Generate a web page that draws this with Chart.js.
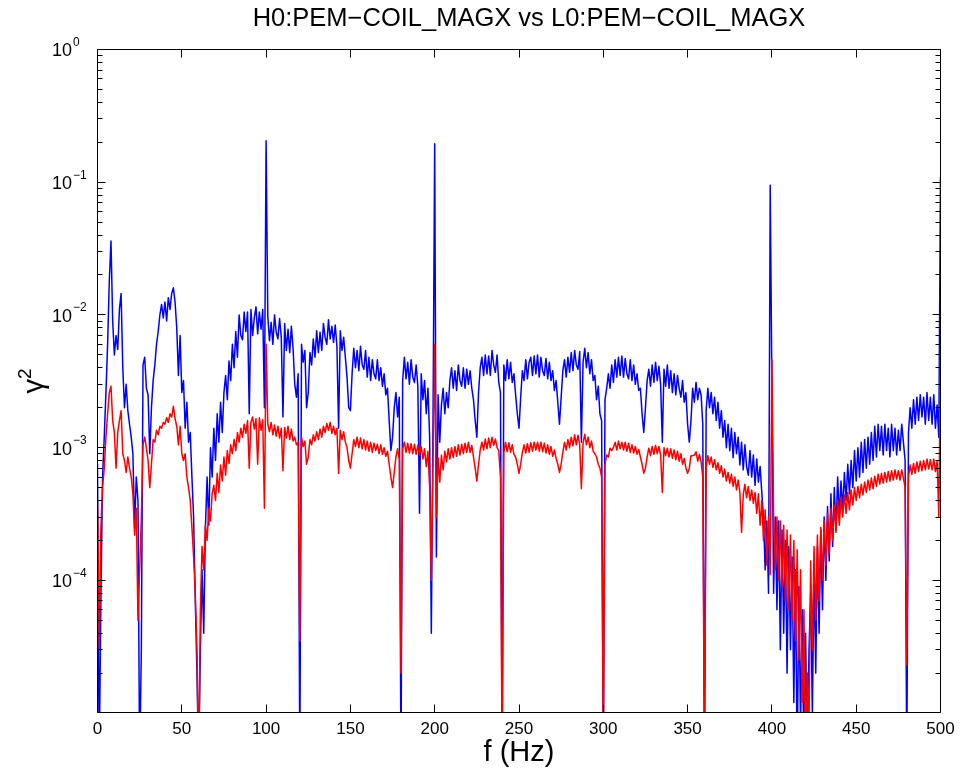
<!DOCTYPE html>
<html><head><meta charset="utf-8">
<script src="https://cdn.jsdelivr.net/npm/chart.js@4.4.1/dist/chart.umd.min.js"></script>
<style>html,body{margin:0;padding:0;background:#fff;}</style>
</head><body>
<canvas id="c" width="960" height="775"></canvas>
<script>
const chartTitle = 'H0:PEM\u2212COIL_MAGX vs L0:PEM\u2212COIL_MAGX';
const xAxisLabel = 'f (Hz)';
const yAxisBase = '\u03b3';
const yAxisSup = '2';
const xTickValues = [0, 50, 100, 150, 200, 250, 300, 350, 400, 450, 500];
const yTickExponents = [0, -1, -2, -3, -4];
const freqStartHz = 0;
const freqStepHz = 1;

// H0 coherence (blue), one value per Hz from 0 to 500 Hz
const blueH0 = [
7.5e-4,4e-6,7e-5,6e-4,1.2e-3,2.6e-3,6e-3,1.8e-2,3.6e-2,9e-3,
5e-3,7e-3,5.5e-3,1.1e-2,1.45e-2,4e-3,2e-3,3e-3,1.9e-3,1.5e-3,
1.2e-3,9e-4,2.5e-4,6e-4,4e-4,4e-6,3e-5,4.2e-3,4.8e-3,2.8e-3,
2.5e-3,9e-4,2e-3,3.2e-3,4.2e-3,6e-3,7.5e-3,1e-2,1.2e-2,9.5e-3,
1.25e-2,9e-3,1.35e-2,1.1e-2,1.45e-2,1.6e-2,1.25e-2,8e-3,3.5e-3,7e-3,
2.6e-3,3.2e-3,1.4e-3,2.2e-3,1.1e-3,1.3e-3,6e-4,3e-4,7e-5,2e-5,
4e-6,3e-5,1.2e-4,4e-5,2.5e-4,6e-4,2.6e-4,1e-3,6e-4,1.4e-3,
8e-4,1.8e-3,1.1e-3,2.2e-3,1.3e-3,2.6e-3,3.5e-3,2.3e-3,4.5e-3,3.2e-3,
6e-3,4e-3,7.5e-3,4.8e-3,1e-2,7e-3,6.5e-3,1.05e-2,7.5e-3,1.05e-2,
1.8e-3,1.1e-2,7e-3,9.5e-3,1.15e-2,7.2e-3,1.05e-2,7.8e-3,1.1e-2,2e-3,
0.205,9.8e-3,6.4e-3,8.8e-3,6e-3,1e-2,7.4e-3,6.6e-3,9.4e-3,6.8e-3,
1.7e-3,8.6e-3,5.4e-3,7.8e-3,5.2e-3,8.2e-3,5.6e-3,3e-3,2.4e-3,3.6e-3,
4e-6,6e-3,4.4e-3,5.4e-3,2e-3,2.6e-3,5.2e-3,4.2e-3,6.6e-3,4.8e-3,
7.6e-3,5.2e-3,7.4e-3,5.4e-3,8.6e-3,6.8e-3,6e-3,9.2e-3,6.6e-3,8.2e-3,
6.2e-3,8.4e-3,5.8e-3,1.4e-3,7.6e-3,5.4e-3,6.8e-3,4.8e-3,3.4e-3,2e-3,
1.9e-3,3.6e-3,5.6e-3,4e-3,5.4e-3,3.8e-3,5.8e-3,4.2e-3,3.9e-3,5.4e-3,
3.4e-3,4.8e-3,3.2e-3,4.6e-3,3.6e-3,3.3e-3,4.6e-3,3.2e-3,4e-3,2.9e-3,
3.6e-3,2.5e-3,2.8e-3,1.6e-3,9.5e-4,1.2e-3,2e-3,2.6e-3,1.7e-3,2.4e-3,
4e-6,3.2e-3,4.8e-3,3.3e-3,4.4e-3,3e-3,4.6e-3,3.4e-3,3.1e-3,4.2e-3,
2.9e-3,3.2e-4,3.6e-3,2.3e-3,3.2e-3,1.8e-3,2.8e-3,1.2e-3,4e-5,1.6e-3,
0.195,1.5e-4,2.5e-3,1.1e-3,2.1e-3,2.8e-3,1.8e-3,2.6e-3,2e-3,3.2e-3,
4e-3,2.8e-3,3.8e-3,2.7e-3,4.2e-3,3.2e-3,2.9e-3,4e-3,2.8e-3,3.9e-3,
3e-3,3.8e-3,2.8e-3,2.3e-3,1.6e-3,1.2e-3,2.6e-3,4e-3,4.8e-3,3.5e-3,
5e-3,3.6e-3,4.9e-3,3.5e-3,5.4e-3,4.2e-3,3.7e-3,5e-3,3.1e-3,2.6e-3,
4e-6,4.2e-3,3.2e-3,4.6e-3,3.3e-3,4.4e-3,3.1e-3,3.6e-3,2.5e-3,1.8e-3,
1.4e-3,2.4e-3,3.8e-3,3.2e-3,4.6e-3,3.3e-3,4.4e-3,4.8e-3,3.5e-3,4.9e-3,
3.6e-3,5e-3,3.4e-3,4.8e-3,3.8e-3,3.5e-3,4.7e-3,3.3e-3,4.4e-3,3.2e-3,
3.8e-3,2.7e-3,3.2e-3,2.2e-3,1.5e-3,2.4e-3,3.8e-3,4.6e-3,3.4e-3,4.8e-3,
3.7e-3,5.2e-3,3.8e-3,5.4e-3,4.2e-3,3.9e-3,5.3e-3,1.1e-3,4.4e-3,5.6e-3,
4e-3,5.2e-3,3.6e-3,4.6e-3,3.2e-3,3.5e-3,2.3e-3,2.9e-3,1.8e-3,1.6e-3,
4e-6,2.3e-3,2.8e-3,3.6e-3,2.8e-3,4.2e-3,3.1e-3,4.6e-3,3.4e-3,4.8e-3,
3.5e-3,4.9e-3,3.4e-3,4.7e-3,3.6e-3,3.3e-3,4.6e-3,3.2e-3,4.2e-3,3e-3,
3.6e-3,2.7e-3,2.8e-3,1.8e-3,1.3e-3,2e-3,3.2e-3,3.9e-3,2.9e-3,4.2e-3,
3.1e-3,4.4e-3,3.2e-3,4.1e-3,3e-3,1.1e-3,3.9e-3,2.9e-3,4.2e-3,2.8e-3,
3.8e-3,2.6e-3,3.6e-3,2.5e-3,3.5e-3,2.8e-3,2.4e-3,3.2e-3,2.2e-3,2.6e-3,
1.5e-3,1.1e-3,1.6e-3,2.8e-3,2.2e-3,3.1e-3,2.3e-3,2.8e-3,2.5e-3,1.5e-3,
4e-6,1.9e-3,2.8e-3,2e-3,2.6e-3,1.8e-3,2.4e-3,1.6e-3,2.2e-3,1.4e-3,
1.9e-3,1.2e-3,1.6e-3,1e-3,1.5e-3,9.5e-4,1.4e-3,8.4e-4,1.3e-3,9e-4,
1.2e-3,7.4e-4,1.1e-3,6.8e-4,1.05e-3,7.2e-4,6.2e-4,9.5e-4,6e-4,8.8e-4,
5.2e-4,8.2e-4,5.5e-4,7.2e-4,4.6e-4,3e-4,1.2e-4,2.8e-4,8e-5,9.5e-2,
2.9e-3,8e-5,3e-4,6e-5,2.8e-4,3e-5,2.4e-4,4e-5,2e-4,2e-5,
1.8e-4,3e-5,1.5e-4,1.2e-5,1.2e-4,4e-6,9e-5,8e-6,6e-5,4e-6,
4e-5,4e-6,3e-5,8e-5,1e-5,1.2e-4,2e-5,1.8e-4,4e-5,2.4e-4,
6e-5,3e-4,1e-4,3.6e-4,1.4e-4,4.5e-4,1.8e-4,5e-4,2.4e-4,6e-4,
3e-4,5.6e-4,3.4e-4,6.5e-4,4e-4,7.5e-4,4.5e-4,8e-4,5e-4,9.5e-4,
5.6e-4,1e-3,6e-4,1.1e-3,6.5e-4,1.15e-3,7e-4,1.2e-3,7.5e-4,1.3e-3,
8e-4,1.45e-3,8.5e-4,1.5e-3,9.5e-4,1.45e-3,8.8e-4,1.5e-3,9.5e-4,1.4e-3,
8.5e-4,1.5e-3,9.5e-4,1.4e-3,8.8e-4,1.35e-3,9.5e-4,1.5e-3,1.1e-3,8e-4,
4e-6,1.3e-3,2e-3,1.4e-3,2.3e-3,1.5e-3,2.4e-3,1.6e-3,2.5e-3,1.7e-3,
2.4e-3,1.5e-3,2.6e-3,1.6e-3,2.4e-3,1.5e-3,2.5e-3,1.4e-3,2.1e-3,1.2e-3,
0.11
];

// L0 coherence (red), one value per Hz from 0 to 500 Hz
const redL0 = [
4e-4,3e-5,2.5e-4,5e-4,7e-4,1.2e-3,1.8e-3,2.6e-3,2.9e-3,1.6e-3,
1.3e-3,7e-4,1.3e-3,1.6e-3,1.9e-3,9e-4,8e-4,6.5e-4,8.5e-4,7e-4,
6e-4,4.5e-4,2.2e-4,3.5e-4,5e-5,1.2e-4,3e-4,1.05e-3,1.2e-3,1e-3,
8e-4,5e-4,7.5e-4,1.15e-3,1.1e-3,1.35e-3,1.25e-3,1.45e-3,1.4e-3,1.55e-3,
1.5e-3,1.68e-3,1.55e-3,1.8e-3,1.7e-3,2.05e-3,1.65e-3,1.45e-3,1.05e-3,1.45e-3,
9e-4,8e-4,9e-4,6e-4,5e-4,4e-4,2.5e-4,1.5e-4,8e-5,3e-5,
4e-6,6e-5,1.8e-4,1.2e-4,2.6e-4,2e-4,3.5e-4,2.8e-4,4.5e-4,5.2e-4,
4e-4,6.4e-4,4.6e-4,7.4e-4,5.6e-4,8.5e-4,6.2e-4,9.5e-4,7.6e-4,1.05e-3,
9e-4,1.15e-3,9.5e-4,1.3e-3,1.1e-3,1.4e-3,1.2e-3,1.5e-3,1.28e-3,1.6e-3,
7e-4,1.55e-3,1.7e-3,1.38e-3,1.65e-3,7.5e-4,1.68e-3,1.35e-3,1.62e-3,3.5e-4,
6e-3,1.5e-3,1.32e-3,1.55e-3,1.25e-3,1.48e-3,1.22e-3,1.45e-3,1.18e-3,1.4e-3,
6.7e-4,1.42e-3,1.18e-3,1.45e-3,1.15e-3,1.38e-3,1.12e-3,1.2e-3,1.05e-3,1.1e-3,
3.5e-5,1.2e-3,1.02e-3,1.12e-3,7.5e-4,8.5e-4,1.15e-3,1.05e-3,1.25e-3,1.12e-3,
1.32e-3,1.15e-3,1.38e-3,1.2e-3,1.45e-3,1.3e-3,1.52e-3,1.35e-3,1.55e-3,1.28e-3,
1.45e-3,1.25e-3,1.4e-3,6.4e-4,1.35e-3,1.15e-3,1.32e-3,1.1e-3,1e-3,8e-4,
7e-4,9e-4,1.15e-3,1.02e-3,1.2e-3,1e-3,1.18e-3,9.8e-4,1.15e-3,9.6e-4,
1.12e-3,9.4e-4,1.1e-3,9.2e-4,1.08e-3,9.5e-4,1.06e-3,9e-4,1.05e-3,8.9e-4,
1e-3,8.6e-4,9.4e-4,7.5e-4,6e-4,5e-4,6.5e-4,8.5e-4,9.8e-4,8.2e-4,
2e-5,9.8e-4,1.1e-3,9.2e-4,1.08e-3,9.1e-4,1.07e-3,9e-4,1.06e-3,8.9e-4,
1.04e-3,8.8e-4,1.02e-3,8.2e-4,9.8e-4,7.2e-4,9.4e-4,5e-4,1e-4,8e-4,
6e-3,3e-4,8.4e-4,5.5e-4,8.8e-4,6.8e-4,9.4e-4,7.8e-4,9.8e-4,8.2e-4,
1e-3,8.4e-4,1.02e-3,8.6e-4,1.05e-3,8.8e-4,1.06e-3,9e-4,1.08e-3,9.2e-4,
1.1e-3,9.2e-4,1.04e-3,8.5e-4,7e-4,5.6e-4,7.5e-4,9.6e-4,1.1e-3,9.6e-4,
1.16e-3,9.8e-4,1.18e-3,1e-3,1.2e-3,1.04e-3,1.16e-3,1e-3,9.5e-4,6e-4,
4e-6,9.2e-4,1.1e-3,9.3e-4,1.09e-3,9.2e-4,1.05e-3,8.9e-4,8.5e-4,7.5e-4,
6.4e-4,7.5e-4,9.2e-4,1.05e-3,9.1e-4,1.07e-3,9.2e-4,1.09e-3,9.4e-4,1.1e-3,
9.6e-4,1.1e-3,9.4e-4,1.1e-3,9.3e-4,1.08e-3,9.1e-4,1.05e-3,8.9e-4,1.02e-3,
8.6e-4,9.6e-4,8.3e-4,7.5e-4,6.5e-4,7.5e-4,9.2e-4,1.1e-3,9.6e-4,1.15e-3,
1e-3,1.2e-3,1.03e-3,1.25e-3,1.05e-3,1.24e-3,1.05e-3,4.9e-4,1.08e-3,1.26e-3,
1.05e-3,1.2e-3,1e-3,1.12e-3,9.4e-4,9e-4,8.5e-4,7.5e-4,7e-4,6e-4,
4e-6,7.5e-4,8.8e-4,8.5e-4,9.9e-4,9.5e-4,1e-3,1.1e-3,9.6e-4,1.12e-3,
9.8e-4,1.1e-3,9.6e-4,1.1e-3,9.4e-4,1.08e-3,9.2e-4,1.05e-3,9.1e-4,1.02e-3,
8.9e-4,9.7e-4,8.5e-4,7.5e-4,6.4e-4,7e-4,8.5e-4,9.9e-4,8.7e-4,1.02e-3,
8.9e-4,1.04e-3,9e-4,1.02e-3,8.8e-4,4.6e-4,1e-3,8.7e-4,9.9e-4,8.5e-4,
9.8e-4,8.3e-4,9.6e-4,8.1e-4,9.4e-4,7.9e-4,9e-4,7.5e-4,8.3e-4,7e-4,
6.4e-4,7e-4,8.7e-4,8.7e-4,8.8e-4,9.3e-4,7.9e-4,8.9e-4,7.8e-4,6e-4,
4e-6,7e-4,8.7e-4,7.5e-4,8.5e-4,7.1e-4,8.1e-4,6.8e-4,7.7e-4,6.4e-4,
7.3e-4,6e-4,6.9e-4,5.6e-4,6.5e-4,5.4e-4,6.3e-4,5.1e-4,6e-4,4.8e-4,
5.7e-4,4.6e-4,2.3e-4,4.4e-4,5.3e-4,4.2e-4,5.1e-4,4e-4,4.8e-4,3.8e-4,
4.6e-4,3.2e-4,4.5e-4,2.6e-4,4e-4,2e-4,3.4e-4,1.3e-4,3e-4,1.1e-4,
4.6e-3,3.2e-4,1.2e-4,3e-4,1e-4,2.8e-4,9e-5,2.6e-4,7e-5,2.4e-4,
6e-5,2.2e-4,5e-5,2e-4,3.5e-5,1.7e-4,2.5e-5,1.2e-4,1.2e-5,6e-5,
4e-6,2e-5,8e-6,1.4e-4,3e-5,1.8e-4,5e-5,2.2e-4,7e-5,2.5e-4,
1e-4,2.8e-4,1.3e-4,3.2e-4,1.6e-4,3.5e-4,2e-4,3.7e-4,2.3e-4,4e-4,
2.6e-4,4.2e-4,3e-4,4.4e-4,3.2e-4,4.6e-4,3.4e-4,4.8e-4,3.7e-4,5e-4,
4e-4,5.1e-4,4.2e-4,5.3e-4,4.4e-4,5.5e-4,4.6e-4,5.7e-4,4.8e-4,5.9e-4,
4.9e-4,6.1e-4,5.1e-4,6.3e-4,5.3e-4,6.4e-4,5.4e-4,6.5e-4,5.5e-4,6.6e-4,
5.6e-4,6.7e-4,5.7e-4,6.8e-4,5.8e-4,6.7e-4,5.7e-4,6.8e-4,5.9e-4,5e-4,
2.3e-5,6e-4,7.4e-4,6.3e-4,7.6e-4,6.4e-4,7.8e-4,6.6e-4,7.9e-4,6.7e-4,
8e-4,6.8e-4,8.2e-4,6.9e-4,8.1e-4,6.8e-4,8.2e-4,6.6e-4,7.9e-4,3e-4,
5e-3
];

const FONT = '"Liberation Sans", Arial, Helvetica, sans-serif';

function toPoints(values) {
  return values.map((v, i) => ({ x: freqStartHz + i * freqStepHz, y: v }));
}

const matlabAxes = {
  id: 'matlabAxes',
  afterDatasetsDraw(chart) {
    const ctx = chart.ctx;
    const a = chart.chartArea;
    const xs = chart.scales.x, ys = chart.scales.y;
    ctx.save();
    ctx.strokeStyle = '#000';
    ctx.lineWidth = 1;
    ctx.beginPath();
    ctx.rect(a.left, a.top, a.right - a.left, a.bottom - a.top);
    ctx.stroke();

    const MAJ = 8, MIN = 5;
    ctx.beginPath();
    xTickValues.forEach(v => {
      const px = Math.floor(xs.getPixelForValue(v)) + 0.5;
      ctx.moveTo(px, a.bottom); ctx.lineTo(px, a.bottom - MAJ);
      ctx.moveTo(px, a.top); ctx.lineTo(px, a.top + MAJ);
    });
    for (let e = -5; e <= 0; e++) {
      for (let m = 1; m <= 9; m++) {
        const v = m * Math.pow(10, e);
        if (v < ys.min * 0.999 || v > ys.max * 1.001) continue;
        const py = Math.floor(ys.getPixelForValue(v)) + 0.5;
        const len = m === 1 ? MAJ : MIN;
        ctx.moveTo(a.left, py); ctx.lineTo(a.left + len, py);
        ctx.moveTo(a.right, py); ctx.lineTo(a.right - len, py);
      }
    }
    ctx.stroke();

    ctx.fillStyle = '#000';
    // x tick labels
    ctx.font = '17px ' + FONT;
    ctx.textAlign = 'center';
    ctx.textBaseline = 'top';
    xTickValues.forEach(v => {
      ctx.fillText(String(v), xs.getPixelForValue(v), a.bottom + 8);
    });
    // y tick labels 10^e
    yTickExponents.forEach(e => {
      const py = ys.getPixelForValue(Math.pow(10, e));
      ctx.font = '18px ' + FONT;
      ctx.textAlign = 'left';
      ctx.textBaseline = 'middle';
      ctx.fillText('10', 52, py + 2);
      const w = ctx.measureText('10').width;
      ctx.font = '12px ' + FONT;
      ctx.fillText(e === 0 ? '0' : '\u2212' + Math.abs(e), 52 + w + 1, py - 7);
    });
    // title
    ctx.font = '25.5px ' + FONT;
    ctx.textAlign = 'center';
    ctx.textBaseline = 'middle';
    ctx.fillText(chartTitle, 529, 19);
    // x label
    ctx.font = '29px ' + FONT;
    ctx.fillText(xAxisLabel, (a.left + a.right) / 2, 753);
    // y label
    ctx.save();
    ctx.translate(43, (a.top + a.bottom) / 2);
    ctx.rotate(-Math.PI / 2);
    ctx.textAlign = 'left';
    ctx.textBaseline = 'alphabetic';
    ctx.font = '29px ' + FONT;
    const wg = ctx.measureText(yAxisBase).width;
    ctx.font = '19px ' + FONT;
    const ws = ctx.measureText(yAxisSup).width;
    const x0 = -(wg + ws) / 2;
    ctx.font = '29px ' + FONT;
    ctx.fillText(yAxisBase, x0, 0);
    ctx.font = '19px ' + FONT;
    ctx.fillText(yAxisSup, x0 + wg, -12);
    ctx.restore();
    ctx.restore();
  }
};

new Chart(document.getElementById('c'), {
  type: 'line',
  data: {
    datasets: [
      { label: 'L0:PEM-COIL_MAGX', data: toPoints(redL0), borderColor: '#ff0000', borderWidth: 1.5, pointRadius: 0, borderJoinStyle: 'round', order: 0 },
      { label: 'H0:PEM-COIL_MAGX', data: toPoints(blueH0), borderColor: '#0000ff', borderWidth: 1.5, pointRadius: 0, borderJoinStyle: 'round', order: 1 }
    ]
  },
  options: {
    responsive: false,
    animation: false,
    devicePixelRatio: 1,
    layout: { padding: { left: 97.5, right: 19.5, top: 49.5, bottom: 62.5 } },
    plugins: { legend: { display: false }, tooltip: { enabled: false }, title: { display: false } },
    elements: { line: { tension: 0 } },
    scales: {
      x: { type: 'linear', min: 0, max: 500, display: false },
      y: { type: 'logarithmic', min: 1.01e-5, max: 1, display: false }
    }
  },
  plugins: [matlabAxes]
});
</script>
</body></html>
